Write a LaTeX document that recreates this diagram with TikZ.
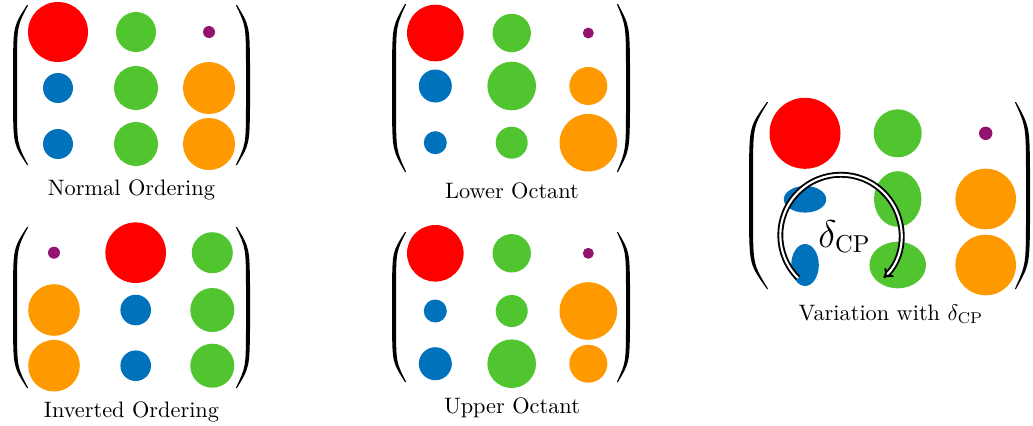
\documentclass[tikz,border=0pt]{standalone}
\usetikzlibrary{arrows.meta}
\definecolor{cR}{RGB}{255,0,0}
\definecolor{cG}{RGB}{80,197,48}
\definecolor{cB}{RGB}{0,114,187}
\definecolor{cO}{RGB}{255,153,0}
\definecolor{cP}{RGB}{146,20,112}
\newcommand{\myLP}[4]{% xtip xmid ytop ybot
 \fill (#1,#3) .. controls ({#2+0.5},{#3+0.13*(#4-#3)}) .. (#2,{#3+0.36*(#4-#3)})
   -- (#2,{#4-0.36*(#4-#3)}) .. controls ({#2+0.5},{#4-0.13*(#4-#3)}) .. (#1,#4)
   -- ({#1+1.2},#4) .. controls ({#2+4.2},{#4-0.13*(#4-#3)}) .. ({#2+4},{#4-0.36*(#4-#3)})
   -- ({#2+4},{#3+0.36*(#4-#3)}) .. controls ({#2+4.2},{#3+0.13*(#4-#3)}) .. ({#1+1.2},#3) -- cycle;}
\newcommand{\myRP}[4]{% xtip xmid ytop ybot
 \fill (#1,#3) .. controls ({#2-0.5},{#3+0.13*(#4-#3)}) .. (#2,{#3+0.36*(#4-#3)})
   -- (#2,{#4-0.36*(#4-#3)}) .. controls ({#2-0.5},{#4-0.13*(#4-#3)}) .. (#1,#4)
   -- ({#1-1.2},#4) .. controls ({#2-4.2},{#4-0.13*(#4-#3)}) .. ({#2-4},{#4-0.36*(#4-#3)})
   -- ({#2-4},{#3+0.36*(#4-#3)}) .. controls ({#2-4.2},{#3+0.13*(#4-#3)}) .. ({#1-1.2},#3) -- cycle;}
\begin{document}
\begin{tikzpicture}[x=0.448pt, y=-0.448pt,
  lab/.style={anchor=base, inner sep=0pt},
  dbl/.style={double, double distance=0.95pt, line width=0.85pt, -{Implies[scale=1.3]}}]
\useasboundingbox (0,0) rectangle (1033,425);
% ---------- Normal Ordering
\fill[cR] (58,32) circle[radius=30];
\fill[cG] (136,32) circle[radius=20];
\fill[cP] (209,32) circle[radius=6];
\fill[cB] (58,88) circle[radius=15];
\fill[cG] (136,88) circle[radius=22];
\fill[cO] (209,88) circle[radius=26];
\fill[cB] (58,144) circle[radius=15];
\fill[cG] (136,144) circle[radius=22];
\fill[cO] (209,144) circle[radius=26];
\myLP{27}{13}{5}{165}
\myRP{237}{250}{5}{165}
\node[lab] (noLab) at (131.5,195) {Normal Ordering};
% ---------- Lower Octant
\fill[cR] (435.3,33) circle[radius=28.3];
\fill[cG] (511.7,33) circle[radius=19.2];
\fill[cP] (588.3,33) circle[radius=5.5];
\fill[cB] (435.3,86) circle[radius=16.5];
\fill[cG] (511.7,86) circle[radius=24.3];
\fill[cO] (588.3,86) circle[radius=19];
\fill[cB] (435.3,142.7) circle[radius=11.5];
\fill[cG] (511.7,142.7) circle[radius=16];
\fill[cO] (588.3,142.7) circle[radius=28.8];
\myLP{405}{392}{4}{172}
\myRP{618}{630}{4}{172}
\node[lab] (loLab) at (512,198) {Lower Octant};
% ---------- Inverted Ordering
\fill[cP] (54,252.7) circle[radius=6];
\fill[cR] (135.7,252.7) circle[radius=30.3];
\fill[cG] (212.3,252.7) circle[radius=20.5];
\fill[cO] (54,310) circle[radius=25.8];
\fill[cB] (135.7,310) circle[radius=15.3];
\fill[cG] (212.3,310) circle[radius=22];
\fill[cO] (54,365.7) circle[radius=25.8];
\fill[cB] (135.7,365.7) circle[radius=15.3];
\fill[cG] (212.3,365.7) circle[radius=22];
\myLP{27}{13}{227}{388}
\myRP{237}{250}{227}{388}
\node[lab] (ioLab) at (131.5,417) {Inverted Ordering};
% ---------- Upper Octant
\fill[cR] (435.3,253.3) circle[radius=28.3];
\fill[cG] (511.7,253.3) circle[radius=19.2];
\fill[cP] (588.3,253.3) circle[radius=5.5];
\fill[cB] (435.3,311) circle[radius=11.5];
\fill[cG] (511.7,311) circle[radius=16];
\fill[cO] (588.3,311) circle[radius=28.8];
\fill[cB] (435.3,363.7) circle[radius=16.5];
\fill[cG] (511.7,363.7) circle[radius=24.3];
\fill[cO] (588.3,363.7) circle[radius=19];
\myLP{405}{392}{232}{382}
\myRP{618}{630}{232}{382}
\node[lab] (uoLab) at (512,413) {Upper Octant};
% ---------- Variation with delta_CP
\fill[cR] (805,133.3) circle[radius=35.5];
\fill[cG] (897.7,133.3) circle[radius=24];
\fill[cP] (985.7,133.3) circle[radius=6.7];
\fill[cB] (805,199.3) ellipse[x radius=21.2, y radius=13.3];
\fill[cG] (897.7,199) ellipse[x radius=23.7, y radius=27.8];
\fill[cO] (985.7,199) circle[radius=30.3];
\fill[cB] (805,265) ellipse[x radius=13.8, y radius=21];
\fill[cG] (897.7,265) ellipse[x radius=28.3, y radius=23.3];
\fill[cO] (985.7,265) circle[radius=30.3];
\myLP{767}{749}{102}{289}
\myRP{1016}{1030}{102}{289}
\coordinate (arcS) at (798,278);
\draw[dbl] (arcS) arc[start angle=135, end angle=405, radius=60.5];
\node[lab, font=\fontsize{16}{19}\selectfont] (dLab) at (844.5,247) {$\delta_{\mathrm{CP}}$};
\node[lab] (vLab) at (891,320) {Variation with $\delta_{\mathrm{CP}}$};
\end{tikzpicture}
\end{document}
